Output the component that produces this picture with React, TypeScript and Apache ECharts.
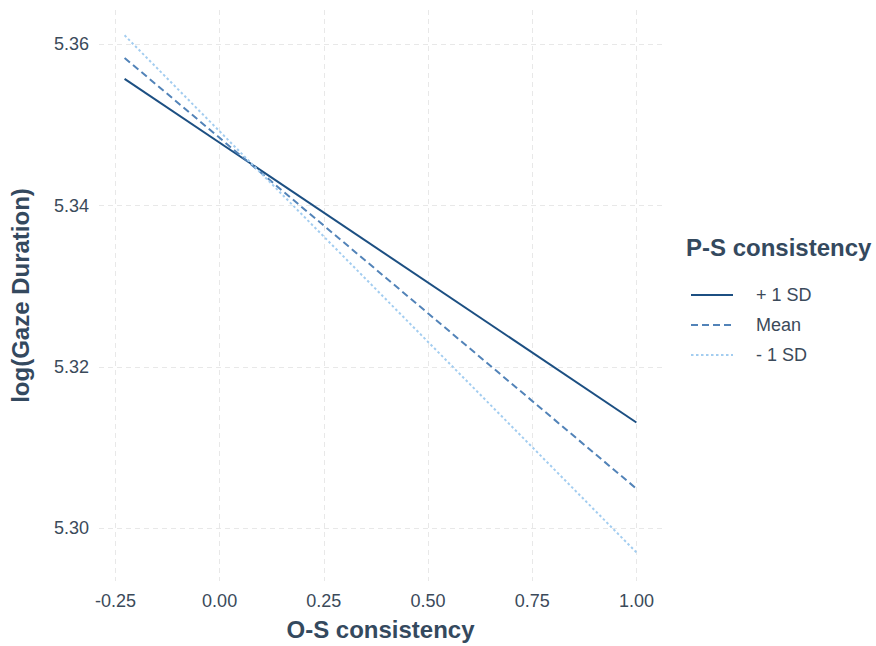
import React, { useEffect, useRef } from "react";
import * as echarts from "echarts";

const xValues = [-0.228, 1.0];
const plusSD = [5.3557, 5.3131];
const meanSD = [5.3583, 5.3049];
const minusSD = [5.3611, 5.297];
const seriesNames = ["+ 1 SD", "Mean", "- 1 SD"];
const xTicks = [-0.25, 0, 0.25, 0.5, 0.75, 1.0];
const yTicks = [5.3, 5.32, 5.34, 5.36];

const FONT = "Liberation Sans, Arial, sans-serif";
const TXT = "#3b4a5a";
const TITLE = "#34495e";

export default function App() {
  const ref = useRef<HTMLDivElement>(null);
  useEffect(() => {
    if (!ref.current) return;
    const chart = echarts.init(ref.current, undefined, { renderer: "svg" });
    const mk = (name: string, ys: number[], color: string, type: any) => ({
      name,
      type: "line",
      data: xValues.map((x, i) => [x, ys[i]]),
      showSymbol: false,
      symbol: "none",
      lineStyle: { color, width: 2, type },
      itemStyle: { color },
      z: 3,
    });
    chart.setOption({
      animation: false,
      backgroundColor: "#ffffff",
      textStyle: { fontFamily: FONT },
      grid: { left: 89, right: 214, top: 10, bottom: 63 },
      xAxis: {
        type: "value",
        min: -0.2894,
        max: 1.0614,
        name: "O-S consistency",
        nameLocation: "middle",
        nameGap: 36,
        nameTextStyle: { fontSize: 24, fontWeight: "bold", color: TITLE, fontFamily: FONT },
        axisLine: { show: false },
        axisTick: { show: false, customValues: xTicks },
        axisLabel: {
          customValues: xTicks,
          formatter: (v: number) => v.toFixed(2),
          fontSize: 18,
          color: TXT,
          margin: 11,
          fontFamily: FONT,
        },
        splitLine: { show: true, lineStyle: { color: "#e8e8e8", type: [5, 4], width: 1 } },
      },
      yAxis: {
        type: "value",
        min: 5.29345,
        max: 5.36424,
        name: "log(Gaze Duration)",
        nameLocation: "middle",
        nameGap: 67,
        nameRotate: 90,
        nameTextStyle: { fontSize: 24, fontWeight: "bold", color: TITLE, fontFamily: FONT },
        axisLine: { show: false },
        axisTick: { show: false, customValues: yTicks },
        axisLabel: {
          customValues: yTicks,
          formatter: (v: number) => v.toFixed(2),
          fontSize: 18,
          color: TXT,
          margin: 10,
          fontFamily: FONT,
        },
        splitLine: { show: true, lineStyle: { color: "#e8e8e8", type: [5, 4], width: 1 } },
      },
      legend: {
        orient: "vertical",
        left: 685,
        top: 281,
        itemWidth: 42,
        itemHeight: 16,
        itemGap: 12,
        data: seriesNames,
        itemStyle: { opacity: 0, borderWidth: 0 },
        textStyle: { fontSize: 18, color: TXT, fontFamily: FONT, padding: [0, 0, 0, 18] },
      },
      graphic: [
        {
          type: "text",
          left: 686,
          top: 235,
          style: {
            text: "P-S consistency",
            fontSize: 24,
            fontWeight: "bold",
            fill: TITLE,
            fontFamily: FONT,
          },
        },
      ],
      series: [
        mk(seriesNames[0], plusSD, "#1c4f82", "solid"),
        mk(seriesNames[1], meanSD, "#5283b8", [7, 4]),
        mk(seriesNames[2], minusSD, "#a3cdf0", [2.5, 2.5]),
      ],
    });
    return () => chart.dispose();
  }, []);
  return (
    <div
      ref={ref}
      style={{ position: "absolute", left: 0, top: 0, width: 876, height: 646 }}
    />
  );
}
